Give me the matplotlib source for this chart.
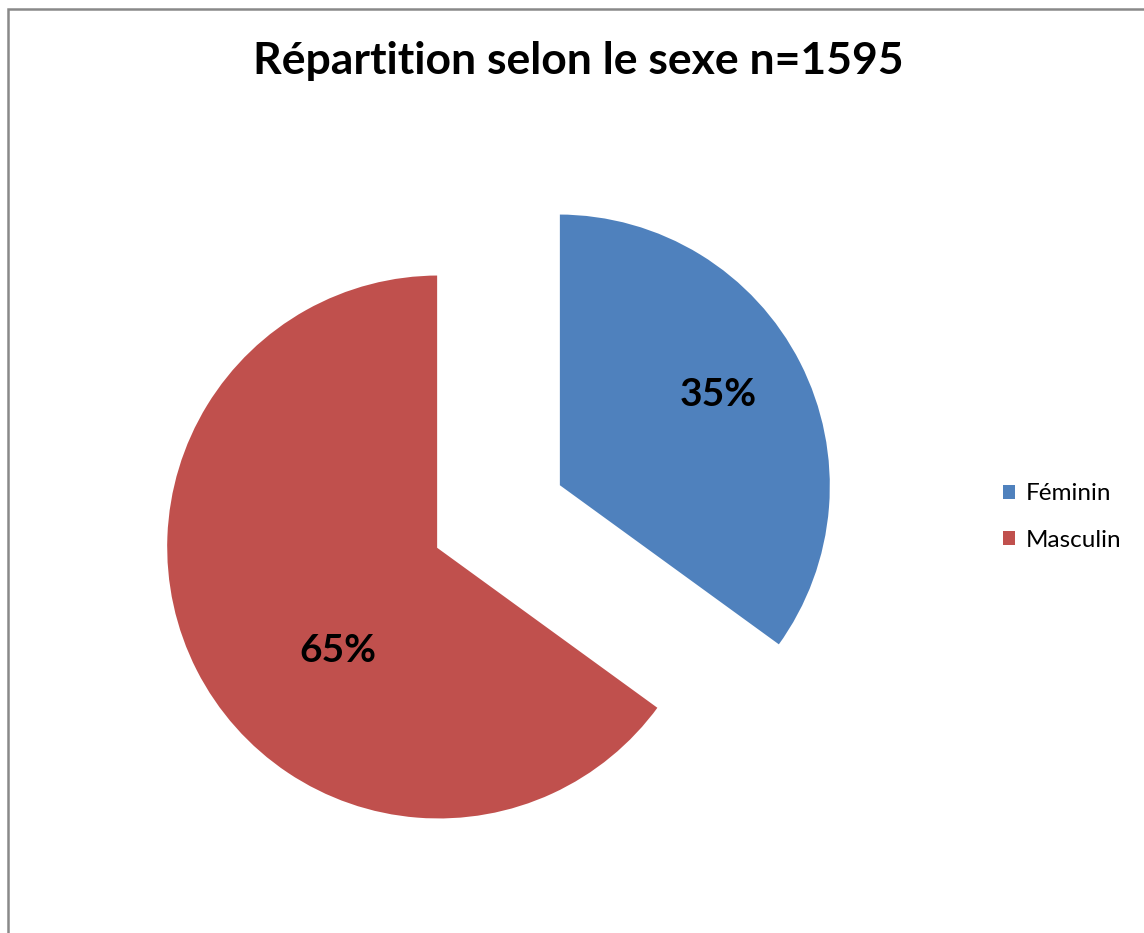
import matplotlib.pyplot as plt
from matplotlib.patches import Rectangle, Patch

# data
categories = ['Féminin', 'Masculin']
percents = [35, 65]
colors = ['#4F81BD', '#C0504D']
title = 'Répartition selon le sexe n=1595'

W, H = 1144, 933
R = 273
plt.rcParams['font.family'] = ['Lato', 'DejaVu Sans']

fig = plt.figure(figsize=(W / 100, H / 100), dpi=100)
ax = fig.add_axes([0, 0, 1, 1])

# both slices pulled apart, first one starting at 12 o'clock going clockwise
# (explode is in data units here, so scale it by the radius)
wedges, texts, autotexts = ax.pie(
    percents, colors=colors, startangle=90, counterclock=False,
    center=(498.5, 416.5), radius=R, explode=[0.246 * R, 0.246 * R],
    autopct='%d%%', pctdistance=0.6,
    wedgeprops=dict(edgecolor='white', linewidth=2.2),
    textprops=dict(fontsize=28, fontweight='bold', color='black'))

# label spots inside each slice
autotexts[0].set_position((718, H - 395))
autotexts[1].set_position((338, H - 650))

ax.set_xlim(0, W)
ax.set_ylim(0, H)
ax.set_aspect('equal')
ax.axis('off')

# chart frame (grey border, cut off at right and bottom)
fig.patches.append(Rectangle((7.5 / W, -0.1), 1.2, 1 - 8.5 / H + 0.1,
                             transform=fig.transFigure, fill=False,
                             edgecolor='#898989', linewidth=1.8))

fig.text(578 / W, 1 - 61 / H, title, ha='center', va='center',
         fontsize=32, fontweight='bold')

handles = [Patch(facecolor=c, edgecolor='none') for c in colors]
fig.legend(handles, categories, loc='center left',
           bbox_to_anchor=(981 / W, 1 - 517 / H), frameon=False,
           fontsize=17.5, handlelength=0.5, handleheight=0.5,
           handletextpad=0.45, labelspacing=1.05)

fig.savefig('out.png', dpi=100)
